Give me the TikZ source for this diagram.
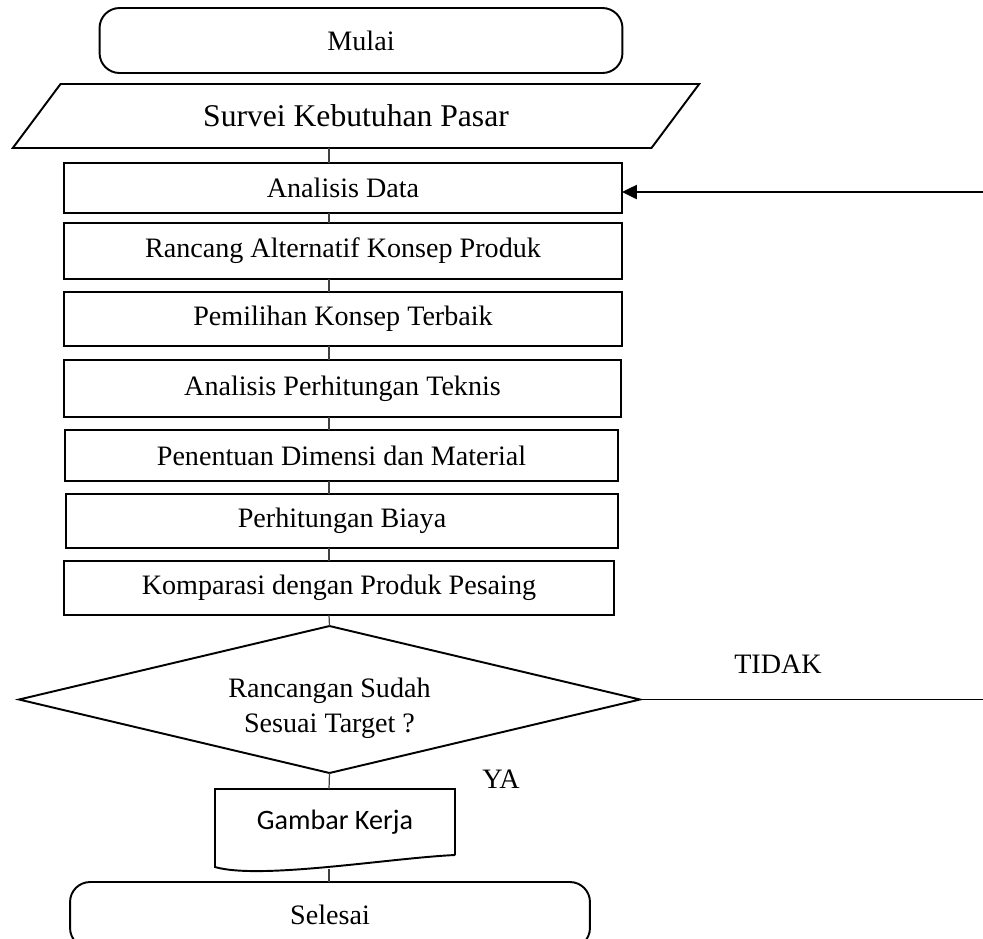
\documentclass[tikz,border=0pt]{standalone}
\usepackage{fontspec}
\setmainfont{Liberation Serif}
\newfontfamily\docfont{Carlito}
\usepackage{tikz}
\usetikzlibrary{shapes.geometric, arrows.meta, positioning}

\begin{document}
\begin{tikzpicture}[
    x=0.02cm, y=-0.02cm,
    font=\fontsize{16}{20}\selectfont,
    box/.style={draw, line width=1.1pt, inner sep=0pt, outer sep=0pt, minimum height=1cm, align=center},
    term/.style={box, rounded corners=0.4cm},
    io/.style={box, trapezium, trapezium left angle=25, trapezium right angle=155, trapezium stretches body, font=\fontsize{18}{22}\selectfont},
    decision/.style={box, diamond, aspect=4.2},
    link/.style={draw=black!75, line width=0.7pt},
    arrow/.style={-{Triangle[length=8.5pt, width=8pt]}, line width=1.1pt}
]
    \useasboundingbox (0,0) rectangle (983,938);

    % Main column
    \node[term, minimum width=10.46cm, minimum height=1.3cm] (mulai) at (361,40.5) {Mulai};
    \node[io, minimum width=13.73cm, minimum height=1.28cm] (survei) at (356,116) {Survei Kebutuhan Pasar};
    \node[box, minimum width=11.16cm, minimum height=1cm] (data) at (343,188) {Analisis Data};
    \node[box, minimum width=11.16cm, minimum height=1.12cm] (rancang) at (343,251) {Rancang Alternatif Konsep Produk};
    \node[box, minimum width=11.16cm, minimum height=1.08cm] (pilih) at (343,319) {Pemilihan Konsep Terbaik};
    \node[box, minimum width=11.14cm, minimum height=1.14cm] (teknis) at (342.5,388.5) {Analisis Perhitungan Teknis};
    \node[box, minimum width=11.06cm, minimum height=1.02cm] (dimensi) at (341.5,455.5) {Penentuan Dimensi dan Material};
    \node[box, minimum width=11.04cm, minimum height=1.08cm] (biaya) at (342,521) {Perhitungan Biaya};
    \node[box, minimum width=11cm, minimum height=1.08cm] (komparasi) at (339,588) {Komparasi dengan Produk Pesaing};
    \node[decision, minimum width=12.42cm, minimum height=2.94cm,
        label={[align=center, yshift=-0.18cm]center:Rancangan Sudah\\Sesuai Target ?}] (cek) at (329.5,699.5) {};
    \node[minimum width=4.8cm, minimum height=1.32cm, inner sep=0pt, outer sep=0pt, font=\docfont\fontsize{16}{20}\selectfont] (doc) at (335,822) {Gambar Kerja};
    \node[term, minimum width=10.4cm, minimum height=1.32cm] (selesai) at (330,915) {Selesai};

    % Document outline
    \draw[line width=1.1pt] (doc.south east) -- (doc.north east) -- (doc.north west) -- (215,867)
        .. controls (260,880) and (390,858) .. (doc.south east);

    % Labels
    \node (tidak) at (778,664) {TIDAK};
    \node (ya) at (501,779) {YA};

    % Connectors
    \coordinate (spine) at (329,0);
    \coordinate (docbot) at (329,869);
    \coordinate (tidakend) at (983,699.5);
    \coordinate (back) at (983,192);
    \draw[link] (survei.south -| spine) -- (data.north -| spine);
    \draw[link] (data.south -| spine) -- (rancang.north -| spine);
    \draw[link] (rancang.south -| spine) -- (pilih.north -| spine);
    \draw[link] (pilih.south -| spine) -- (teknis.north -| spine);
    \draw[link] (teknis.south -| spine) -- (dimensi.north -| spine);
    \draw[link] (dimensi.south -| spine) -- (biaya.north -| spine);
    \draw[link] (biaya.south -| spine) -- (komparasi.north -| spine);
    \draw[link] (komparasi.south -| spine) -- (cek.north);
    \draw[link] (cek.south) -- (doc.north -| spine);
    \draw[link] (docbot) -- (selesai.north -| spine);
    \draw[line width=0.8pt] (cek.east) -- (tidakend);
    \draw[arrow] (back) -- (back -| data.east);
\end{tikzpicture}
\end{document}
